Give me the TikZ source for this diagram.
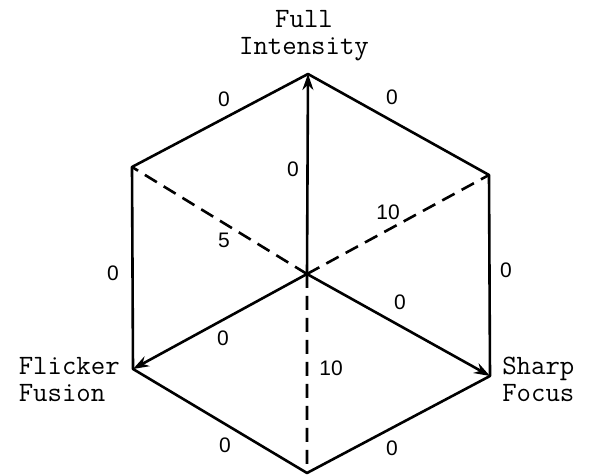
\documentclass[tikz,border=0pt]{standalone}
\usepackage{fontspec}
\newfontfamily\numfont{Liberation Sans}
\usetikzlibrary{arrows.meta,positioning}
\begin{document}
\begin{tikzpicture}[x=0.5pt, y=0.5pt, line width=1.3pt, line join=round, line cap=round, >={Stealth[length=8pt,width=5.5pt]},
	num/.style={font=\numfont\fontsize{10.5}{12}\selectfont, inner sep=0pt},
	lbl/.style={font=\ttfamily\fontsize{14}{13.5}\selectfont, inner sep=0pt},
	axis/.style={dash pattern=on 7pt off 4pt, line cap=butt}]
	\useasboundingbox (0,0) rectangle (589,475);
	\path (307,201) coordinate (O)
	(308,401) coordinate (T)
	(489,300) coordinate (UR)
	(490,99) coordinate (SR)
	(307,2) coordinate (B)
	(133,106) coordinate (FL)
	(132,308) coordinate (UL);
	\draw (T)--(UR)--(SR)--(B)--(FL)--(UL)--cycle;
	\draw[->] (O)--(T);
	\draw[->] (O)--(FL);
	\draw[->] (O)--(SR);
	\draw[axis] (O)--(UL) (O)--(UR) (O)--(B);
	% edge values
	\foreach \i/\p/\t in {1/{224,376}/0, 2/{392,378}/0, 3/{293,306}/0, 4/{388,263}/10, 5/{224,235}/5, 6/{113,202}/0,
		7/{506,205}/0, 8/{400,173}/0, 9/{223,137}/0, 10/{331,107}/10, 11/{225,30}/0, 12/{392,27}/0}{
		\node[num] (n\i) at (\p) {\t};
	}
	% corner names
	\node[lbl, align=center, above=6pt of T, xshift=-2pt] (full) {Full\\Intensity};
	\node[lbl, align=left, anchor=north east] (flicker) at (121,119) {Flicker\\Fusion};
	\node[lbl, align=left, anchor=north west] (sharp) at (501,119) {Sharp\\Focus};
\end{tikzpicture}
\end{document}
